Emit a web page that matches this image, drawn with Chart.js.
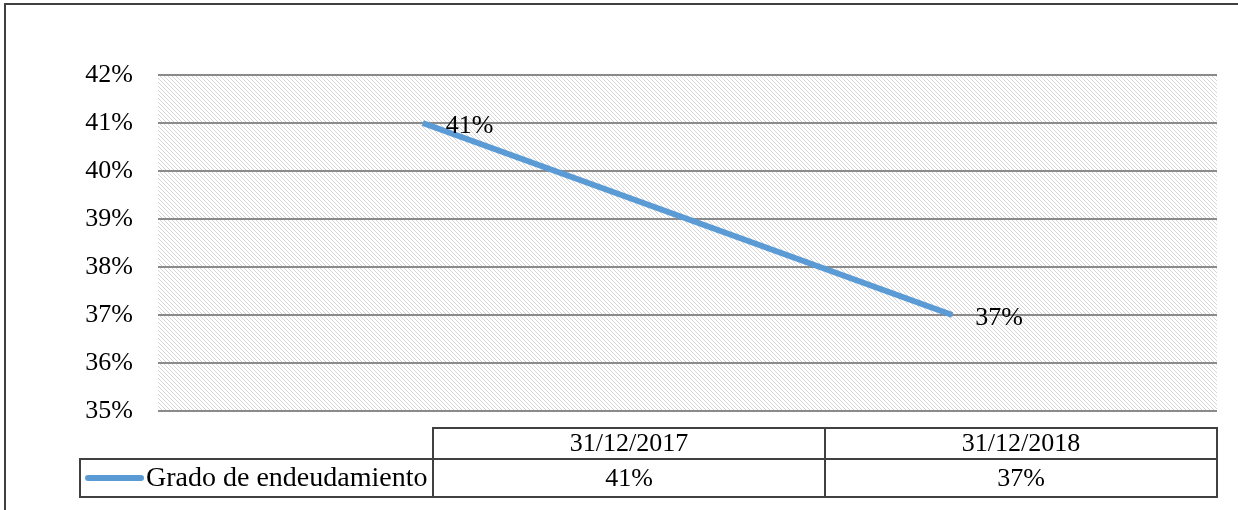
<!DOCTYPE html>
<html>
<head>
<meta charset="utf-8">
<script src="https://cdn.jsdelivr.net/npm/chart.js@4"></script>
<style>
  html, body { margin: 0; padding: 0; background: #ffffff; }
  #wrap { width: 1238px; height: 510px; }
</style>
</head>
<body>
<div id="wrap"><canvas id="grado" width="1238" height="510"></canvas></div>
<script>
// Grado de endeudamiento

const fechas = ["31/12/2017", "31/12/2018"];
const grado = [41, 37];
const ticksPct = [35, 36, 37, 38, 39, 40, 41, 42];
const serie = "Grado de endeudamiento";

const FONT = "'Liberation Serif', 'Times New Roman', serif";
const AZUL = "#5b9bd5";

// hatch pattern for the plot area
function hatch() {
  const c = document.createElement("canvas");
  c.width = 4;
  c.height = 4;
  const g = c.getContext("2d");
  g.fillStyle = "#ffffff";
  g.fillRect(0, 0, 4, 4);
  g.fillStyle = "#d6d6d6";
  for (let i = 0; i < 4; i++) g.fillRect(i, i, 1, 1);
  return g.createPattern(c, "repeat");
}

const fondo = {
  id: "fondo",
  beforeDraw(chart) {
    const { ctx, chartArea: a } = chart;
    ctx.save();
    ctx.fillStyle = hatch();
    ctx.fillRect(a.left, a.top, a.right - a.left, a.bottom - a.top);
    ctx.restore();
  },
};

const etiquetas = {
  id: "etiquetas",
  afterDatasetsDraw(chart) {
    const { ctx } = chart;
    const meta = chart.getDatasetMeta(0);
    ctx.save();
    ctx.font = "26px " + FONT;
    ctx.fillStyle = "#000000";
    ctx.textBaseline = "middle";
    ctx.textAlign = "left";
    meta.data.forEach((p, i) => {
      ctx.fillText(grado[i] + "%", p.x + 23, p.y + 3);
    });
    ctx.restore();
  },
};

const tabla = {
  id: "tabla",
  afterDraw(chart) {
    const { ctx, chartArea: a } = chart;
    const right = a.right;
    const colW = 392;
    const x1 = right - colW * 2;
    const x2 = right - colW;
    const leftCell = 80;
    const top = 428, mid = 459, bot = 497;

    ctx.save();
    ctx.strokeStyle = "#404040";
    ctx.lineWidth = 2;
    ctx.beginPath();
    // header row
    ctx.rect(x1, top, colW * 2, mid - top);
    // value row
    ctx.rect(leftCell, mid, right - leftCell, bot - mid);
    ctx.moveTo(x2, top);
    ctx.lineTo(x2, bot);
    ctx.moveTo(x1, mid);
    ctx.lineTo(x1, bot);
    ctx.stroke();

    // outer chart border
    ctx.lineWidth = 2;
    ctx.strokeStyle = "#404040";
    ctx.beginPath();
    ctx.moveTo(5, 510);
    ctx.lineTo(5, 4);
    ctx.lineTo(1238, 4);
    ctx.stroke();

    ctx.font = "26px " + FONT;
    ctx.fillStyle = "#000000";
    ctx.textBaseline = "middle";
    ctx.textAlign = "center";
    fechas.forEach((f, i) => {
      const cx = x1 + colW * i + colW / 2;
      ctx.fillText(f, cx, (top + mid) / 2 + 1);
      ctx.fillText(grado[i] + "%", cx, (mid + bot) / 2 + 1);
    });

    // legend key
    ctx.strokeStyle = AZUL;
    ctx.lineWidth = 6;
    ctx.lineCap = "round";
    ctx.beginPath();
    ctx.moveTo(88, 478);
    ctx.lineTo(141, 478);
    ctx.stroke();
    ctx.textAlign = "left";
    ctx.font = "28px " + FONT;
    ctx.fillText(serie, 146, (mid + bot) / 2 + 1);
    ctx.restore();
  },
};

new Chart(document.getElementById("grado"), {
  type: "line",
  data: {
    labels: fechas,
    datasets: [
      {
        label: serie,
        data: grado,
        borderColor: AZUL,
        borderWidth: 6,
        pointRadius: 0,
        tension: 0,
      },
    ],
  },
  options: {
    responsive: false,
    animation: false,
    layout: { padding: { top: 75, right: 21, bottom: 99, left: 0 } },
    plugins: {
      legend: { display: false },
      tooltip: { enabled: false },
    },
    scales: {
      x: {
        display: false,
        offset: true,
      },
      y: {
        min: 35,
        max: 42,
        afterFit(scale) {
          scale.width = 158;
        },
        afterBuildTicks(scale) {
          scale.ticks = ticksPct.map((v) => ({ value: v }));
        },
        border: { display: false },
        grid: {
          color: "#8a8a8a",
          lineWidth: 2,
          drawTicks: false,
        },
        ticks: {
          padding: 25,
          color: "#000000",
          font: { family: FONT, size: 26 },
          callback: (v) => v + "%",
        },
      },
    },
  },
  plugins: [fondo, etiquetas, tabla],
});
</script>
</body>
</html>
